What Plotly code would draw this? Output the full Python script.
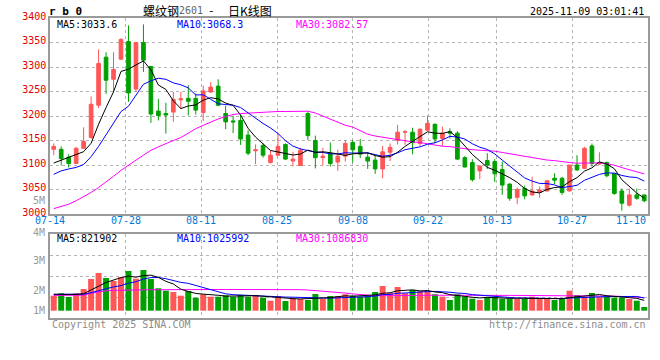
import plotly.graph_objects as go
import pandas as pd

# ---------------- data ----------------
dates = [
    "07-14", "07-15", "07-16", "07-17", "07-18", "07-21", "07-22", "07-23", "07-24", "07-25",
    "07-28", "07-29", "07-30", "07-31", "08-01", "08-04", "08-05", "08-06", "08-07", "08-08",
    "08-11", "08-12", "08-13", "08-14", "08-15", "08-18", "08-19", "08-20", "08-21", "08-22",
    "08-25", "08-26", "08-27", "08-28", "08-29", "09-01", "09-02", "09-03", "09-04", "09-05",
    "09-08", "09-09", "09-10", "09-11", "09-12", "09-15", "09-16", "09-17", "09-18", "09-19",
    "09-22", "09-23", "09-24", "09-25", "09-26", "09-29", "09-30", "10-09", "10-10", "10-13",
    "10-14", "10-15", "10-16", "10-17", "10-20", "10-21", "10-22", "10-23", "10-24", "10-27",
    "10-28", "10-29", "10-30", "10-31", "11-03", "11-04", "11-05", "11-06", "11-07", "11-10",
]

open_prices = [
    3132, 3132, 3116, 3103, 3134, 3156, 3222, 3320, 3275, 3316,
    3352, 3255, 3350, 3301, 3210, 3205, 3208, 3233, 3236, 3236,
    3207, 3249, 3261, 3205, 3190, 3191, 3161, 3129, 3140, 3105,
    3120, 3142, 3108, 3099, 3205, 3150, 3115, 3123, 3106, 3118,
    3146, 3138, 3116, 3110, 3092, 3126, 3150, 3167, 3167, 3144,
    3171, 3183, 3154, 3168, 3165, 3115, 3105, 3088, 3109, 3107,
    3091, 3061, 3034, 3052, 3039, 3044, 3047, 3073, 3073, 3047,
    3100, 3093, 3139, 3102, 3105, 3083, 3047, 3018, 3039, 3039,
]
high_prices = [
    3144, 3138, 3122, 3137, 3177, 3240, 3336, 3330, 3330, 3359,
    3385, 3350, 3387, 3302, 3235, 3227, 3249, 3249, 3263, 3246,
    3262, 3269, 3275, 3221, 3201, 3202, 3171, 3142, 3144, 3129,
    3165, 3144, 3127, 3135, 3209, 3160, 3135, 3146, 3131, 3151,
    3151, 3153, 3126, 3120, 3139, 3144, 3182, 3171, 3176, 3175,
    3201, 3185, 3178, 3175, 3169, 3118, 3112, 3098, 3124, 3112,
    3107, 3063, 3054, 3058, 3076, 3056, 3069, 3083, 3076, 3100,
    3120, 3137, 3144, 3126, 3107, 3083, 3052, 3052, 3052, 3039,
]
low_prices = [
    3120, 3099, 3095, 3102, 3133, 3154, 3216, 3245, 3249, 3314,
    3229, 3249, 3290, 3186, 3191, 3164, 3188, 3214, 3201, 3203,
    3190, 3247, 3220, 3173, 3165, 3141, 3120, 3102, 3115, 3103,
    3119, 3110, 3097, 3098, 3151, 3093, 3099, 3097, 3088, 3107,
    3105, 3114, 3092, 3082, 3073, 3108, 3142, 3141, 3122, 3139,
    3170, 3144, 3139, 3154, 3110, 3095, 3066, 3071, 3092, 3065,
    3039, 3027, 3020, 3030, 3037, 3033, 3046, 3061, 3039, 3046,
    3088, 3092, 3097, 3100, 3075, 3039, 3007, 3015, 3029, 3024,
]
close_prices = [
    3138, 3113, 3103, 3134, 3148, 3224, 3307, 3273, 3295, 3356,
    3247, 3350, 3314, 3204, 3201, 3202, 3234, 3235, 3230, 3212,
    3251, 3259, 3222, 3188, 3188, 3153, 3124, 3131, 3120, 3120,
    3138, 3112, 3112, 3130, 3160, 3115, 3118, 3103, 3118, 3144,
    3131, 3122, 3108, 3092, 3127, 3136, 3167, 3168, 3146, 3173,
    3185, 3153, 3165, 3165, 3112, 3096, 3070, 3098, 3100, 3082,
    3059, 3032, 3050, 3037, 3047, 3049, 3068, 3069, 3044, 3100,
    3090, 3134, 3103, 3105, 3078, 3042, 3022, 3039, 3032, 3027,
]
volumes = [
    1210000, 1403000, 1105000, 1403000, 1750000, 2556000, 3040000, 2637000, 2395000, 2694000,
    3202000, 2581000, 3282000, 2556000, 1806000, 1613000, 1508000, 1210000, 1589000, 1048000,
    1323000, 1129000, 1129000, 1242000, 1129000, 1266000, 1129000, 1266000, 1048000, 806000,
    1185000, 782000, 1024000, 944000, 863000, 1347000, 944000, 1185000, 1185000, 1323000,
    1210000, 1129000, 1185000, 1508000, 1992000, 1427000, 1911000, 1403000, 1669000, 1565000,
    1589000, 1323000, 1129000, 863000, 1323000, 1129000, 968000, 863000, 1081000, 1129000,
    944000, 944000, 944000, 944000, 1129000, 944000, 944000, 863000, 944000, 1613000,
    1266000, 1129000, 1427000, 1081000, 1129000, 1048000, 1048000, 944000, 806000, 298000,
]

# moving-average values at the start of the window depend on earlier days
ma5_head = [3104, 3110, 3116, 3121]
ma10_head = [3081, 3088, 3092, 3095, 3101, 3117, 3138, 3162, 3187]
ma30_head = [
    3011, 3015, 3020, 3027, 3035, 3044, 3054, 3065, 3077, 3089,
    3100, 3110, 3120, 3130, 3137, 3144, 3150, 3156, 3165, 3174,
    3181, 3188, 3194, 3199, 3203, 3205, 3206, 3207, 3207,
]
vol_ma5_head = [1320000, 1320000, 1310000, 1310000]
vol_ma10_head = [1320000, 1320000, 1320000, 1320000, 1330000, 1450000, 1620000, 1780000, 1920000]
vol_ma30_head = [
    1230000, 1230000, 1230000, 1230000, 1250000, 1410000, 1520000, 1600000, 1640000, 1660000,
    1670000, 1680000, 1680000, 1690000, 1690000, 1700000, 1700000, 1700000, 1700000, 1710000,
    1710000, 1710000, 1710000, 1710000, 1710000, 1710000, 1710000, 1710000, 1710000,
]

tick_labels = ["07-14", "07-28", "08-11", "08-25", "09-08", "09-22", "10-13", "10-27", "11-10"]
price_ma_text = ["MA5:3033.6", "MA10:3068.3", "MA30:3082.57"]
vol_ma_text = ["MA5:821902", "MA10:1025992", "MA30:1086830"]
vol_axis_labels = ["5M", "4M", "3M", "2M", "1M"]
title_parts = ["螺纹钢", "2601", "-", "日K线图"]
symbol_text = "r b 0"
timestamp_text = "2025-11-09 03:01:41"
copyright_text = "Copyright 2025 SINA.COM"
url_text = "http://finance.sina.com.cn"

# ---------------- styling / layout constants ----------------
RED = "#ff5656"
GREEN = "#00a000"
GRID = "#b4b4b4"
BORDER = "#9a9a9a"
DATE_BLUE = "#0078d7"
PRICE_RED = "#e00000"
MONO = "DejaVu Sans Mono, Liberation Mono, monospace"
CJK = "Noto Sans CJK SC, Noto Sans, sans-serif"
MA_COLORS = ["#000000", "#0000ff", "#ff00ff"]

L, R, T, B = 50, 650, 18, 318          # plot area in pixels


def px(x):
    return (x - L) / (R - L)


def py(y):
    return (B - y) / (B - T)


def moving_average(values, n, head):
    rolled = pd.Series(values, dtype=float).rolling(n).mean().tolist()
    return list(head) + rolled[len(head):]


n = len(dates)
xs = [i + 0.5 for i in range(n)]
tick_idx = [dates.index(t) for t in tick_labels]
tick_pos = [k * n / (n - 1) for k in tick_idx]

ma5 = moving_average(close_prices, 5, ma5_head)
ma10 = moving_average(close_prices, 10, ma10_head)
ma30 = moving_average(close_prices, 30, ma30_head)
vma5 = moving_average(volumes, 5, vol_ma5_head)
vma10 = moving_average(volumes, 10, vol_ma10_head)
vma30 = moving_average(volumes, 30, vol_ma30_head)

bar_colors = [RED if c >= o else GREEN for o, c in zip(open_prices, close_prices)]

fig = go.Figure()

fig.add_trace(go.Candlestick(
    x=xs, open=open_prices, high=high_prices, low=low_prices, close=close_prices,
    increasing=dict(line=dict(color=RED, width=1), fillcolor=RED),
    decreasing=dict(line=dict(color=GREEN, width=1), fillcolor=GREEN),
    whiskerwidth=0, xaxis="x", yaxis="y", showlegend=False, hoverinfo="skip",
))
for vals, col in zip([ma30, ma10, ma5], MA_COLORS[::-1]):
    fig.add_trace(go.Scatter(x=xs, y=vals, mode="lines", line=dict(color=col, width=1),
                             xaxis="x", yaxis="y", showlegend=False, hoverinfo="skip"))

fig.add_trace(go.Bar(x=xs, y=volumes, width=0.8, marker=dict(color=bar_colors, line=dict(width=0)),
                     xaxis="x2", yaxis="y2", showlegend=False, hoverinfo="skip"))
for vals, col in zip([vma30, vma10, vma5], MA_COLORS[::-1]):
    fig.add_trace(go.Scatter(x=xs, y=vals, mode="lines", line=dict(color=col, width=1),
                             xaxis="x2", yaxis="y2", showlegend=False, hoverinfo="skip"))

vol_range = [-590000, 6185000]
vol_grid = [vol_range[0] + (vol_range[1] - vol_range[0]) * k / 4 for k in (1, 2, 3)]

axis_common = dict(showgrid=True, gridcolor=GRID, griddash="dot", gridwidth=1,
                   showline=True, mirror=True, linecolor=BORDER, linewidth=1.5,
                   zeroline=False, ticks="")

grid_ticks = [p for p in tick_pos if p < n - 0.01]

fig.update_layout(
    width=660, height=360,
    margin=dict(l=L, r=660 - R, t=T, b=360 - B),
    paper_bgcolor="white", plot_bgcolor="white",
    boxgap=0.3,
    showlegend=False,
    xaxis=dict(domain=[0, 1], anchor="y", range=[0, n], tickvals=grid_ticks,
               showticklabels=False, rangeslider=dict(visible=False), **axis_common),
    yaxis=dict(domain=[py(214), 1], anchor="x", range=[3000, 3400], dtick=50, tick0=3000,
               ticklabelshift=-2,
               tickfont=dict(family=MONO, size=10, color=PRICE_RED), **axis_common),
    xaxis2=dict(domain=[0, 1], anchor="y2", range=[0, n], matches="x",
                tickvals=grid_ticks, showticklabels=False, **axis_common),
    yaxis2=dict(domain=[0, py(234)], anchor="x2", range=vol_range,
                tickvals=vol_grid, showticklabels=False, **axis_common),
)

ann = []


def text(x, y, s, color="#000000", size=10, family=MONO, xanchor="left", yanchor="middle",
         xref="paper"):
    ann.append(dict(x=px(x) if xref == "paper" else x, y=py(y), xref=xref, yref="paper",
                    text=s, showarrow=False, xanchor=xanchor, yanchor=yanchor,
                    font=dict(family=family, size=size, color=color)))


# date labels under the price panel (the last one is pulled inside like the reference)
for p, lab in zip(tick_pos, tick_labels):
    if p < n - 0.01:
        text(p, 220.3, lab, color=DATE_BLUE, xanchor="center", xref="x")
    else:
        text(p, 220.3, lab, color=DATE_BLUE, xanchor="right", xref="x")

# header
text(47, 12, "<b>" + symbol_text + "</b>", size=11)
for xpos, part, col, fam, sz in zip([141, 177, 207, 227], title_parts,
                                    ["#000000", "#666666", "#000000", "#000000"],
                                    [CJK, MONO, MONO, CJK], [12, 10, 11, 12]):
    text(xpos, 11, part, color=col, size=sz, family=fam)
text(648, 12, timestamp_text, xanchor="right")

# MA legends
for xpos, s, c in zip([55, 175, 295], price_ma_text, MA_COLORS):
    text(xpos, 24, s, color=c)
for xpos, s, c in zip([55, 175, 295], vol_ma_text, MA_COLORS):
    text(xpos, 238.5, s, color=c)

# volume axis labels (placed as in the reference)
for ypos, s in zip([200.7, 232, 260.7, 290.7, 310.7], vol_axis_labels):
    text(47, ypos, s, color="#999999", xanchor="right")

# footer
text(50, 324, copyright_text, color="#8c8c8c")
text(650, 324, url_text, color="#8c8c8c", xanchor="right")

fig.update_layout(annotations=ann)

fig.write_html("out.html", config={"displayModeBar": False},
               post_script="document.body.style.margin='0';document.body.style.overflow='hidden';")
